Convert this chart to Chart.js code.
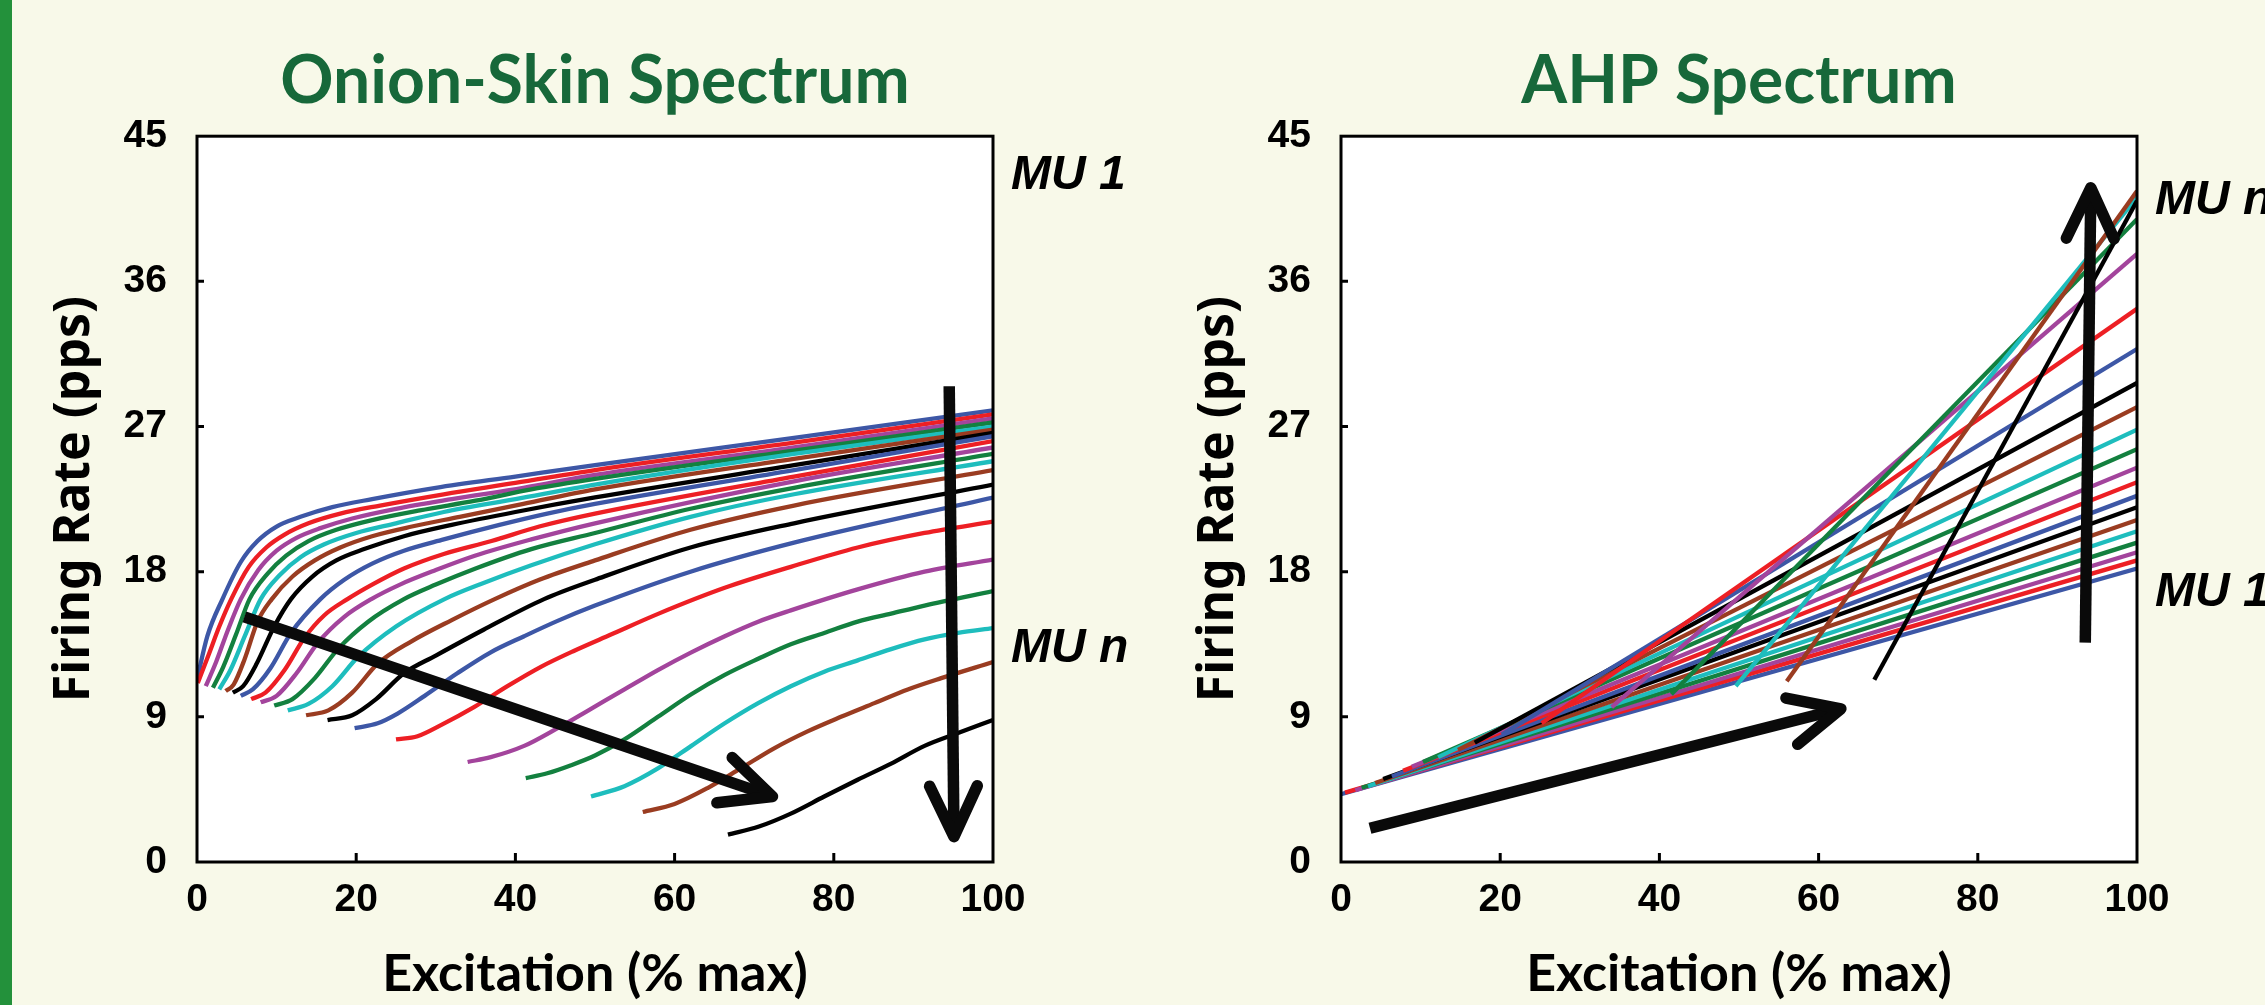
<!DOCTYPE html>
<html>
<head>
<meta charset="utf-8">
<script src="https://cdn.jsdelivr.net/npm/chart.js@4.4.1/dist/chart.umd.min.js"></script>
<style>
  html, body { margin: 0; padding: 0; background: #f8f9e9; }
  #page { position: relative; width: 2265px; height: 1005px; overflow: hidden; }
  #bar { position: absolute; left: 0; top: 0; width: 12px; height: 1005px; background: #23913b; }
  canvas { position: absolute; top: 0; }
  #onion { left: 0; }
  #ahp { left: 1144px; }
</style>
</head>
<body>
<div id="page">
  <canvas id="onion" width="1144" height="1005"></canvas>
  <canvas id="ahp" width="1121" height="1005"></canvas>
  <div id="bar"></div>
</div>
<script>
// colour cycle used for MU 1 .. MU n
var muColors = ['#3d57a6', '#ed1f24', '#a3449c', '#13803f', '#1ebdbd', '#9a3c21', '#000000'];

var xTicks = [0, 20, 40, 60, 80, 100];
var yTicks = [0, 9, 18, 27, 36, 45];

// Onion-skin: [excitation, firing rate] (MU 1 first)
var onionCurves = [
  [[0,11.3],[1.3,14.0],[3.2,16.3],[5.5,18.6],[7.6,19.9],[10,20.8],[13,21.4],[17,22.0],[22,22.5],[30,23.2],[40,23.9],[50,24.6],[75,26.3],[100,28.0]],
  [[0.1,11.1],[1.5,12.9],[2.8,14.6],[4.3,16.3],[6.5,18.3],[8.7,19.5],[11,20.3],[14,21.0],[18,21.6],[23,22.1],[31,22.8],[40,23.5],[50,24.3],[75,26.0],[100,27.75]],
  [[1.1,10.9],[2.4,12.4],[3.9,14.4],[5.5,16.3],[7.7,18.1],[10,19.3],[12.5,20.1],[15.5,20.7],[19.5,21.3],[25,21.9],[32,22.5],[41,23.2],[50,24.0],[75,25.7],[100,27.5]],
  [[2,10.8],[3.3,12.1],[4.9,14.1],[6.6,16.3],[8.9,17.9],[11.2,19.0],[14,19.9],[17.5,20.6],[22,21.2],[28,21.8],[35,22.4],[42,23.1],[50,23.75],[75,25.5],[100,27.25]],
  [[2.8,10.7],[4.2,11.9],[6,14.0],[8,16.3],[10.4,17.8],[13,18.9],[16,19.7],[20,20.4],[25,21.0],[31,21.7],[40,22.5],[50,23.4],[75,25.3],[100,27.0]],
  [[3.6,10.6],[4.6,11.0],[6,12.6],[7.6,14.9],[9.4,16.3],[12,17.7],[14.8,18.7],[18,19.5],[22,20.2],[27,20.8],[33,21.4],[41,22.2],[50,23.1],[75,25.0],[100,26.8]],
  [[4.5,10.5],[5.8,10.9],[7.5,12.3],[9.7,14.6],[11.8,16.3],[14.5,17.7],[17.5,18.7],[21,19.4],[26,20.2],[32,20.9],[40,21.7],[50,22.6],[75,24.6],[100,26.6]],
  [[5.5,10.3],[7,10.7],[9.2,12.0],[11.8,14.2],[15.5,16.3],[18.5,17.5],[22,18.5],[26,19.3],[31,20.0],[38,20.9],[44,21.6],[50,22.2],[75,24.3],[100,26.4]],
  [[6.8,10.1],[8.6,10.5],[11,11.9],[13.5,13.9],[16,15.3],[18.9,16.3],[22,17.2],[26,18.2],[31,19.1],[37,19.9],[43,20.8],[50,21.6],[75,23.9],[100,26.1]],
  [[8,9.9],[10,10.3],[12.5,11.7],[15.2,13.6],[18.5,15.2],[21.9,16.3],[25.5,17.2],[30,18.1],[35,19.0],[42,20.0],[50,21.0],[75,23.6],[100,25.7]],
  [[9.7,9.7],[12,10.1],[14.8,11.4],[17.7,13.2],[21.5,14.9],[26,16.3],[30,17.2],[35,18.2],[42,19.4],[50,20.4],[62,21.9],[75,23.2],[100,25.3]],
  [[11.4,9.4],[14,9.8],[17,10.9],[20.2,12.7],[25,14.6],[31.1,16.3],[36,17.3],[42,18.4],[50,19.7],[62,21.4],[75,22.8],[100,24.85]],
  [[13.7,9.1],[16.5,9.4],[19.5,10.5],[22.7,12.3],[27,13.7],[32,15.0],[37.4,16.3],[43,17.5],[50,18.7],[62,20.6],[75,22.1],[100,24.3]],
  [[16.4,8.8],[19.5,9.1],[22.5,10.1],[26,11.7],[30,12.8],[36,14.4],[43.6,16.3],[50,17.5],[62,19.5],[75,21.0],[100,23.4]],
  [[19.8,8.3],[22.7,8.6],[25.2,9.2],[28.6,10.3],[32.7,11.7],[36.9,13.0],[41.1,14.0],[45.3,14.95],[50,15.9],[62,18.0],[75,19.8],[100,22.6]],
  [[25,7.6],[27.7,7.8],[30.7,8.5],[34.8,9.6],[39,10.9],[43.2,12.1],[47.4,13.1],[52,14.1],[58,15.4],[66.3,17.0],[74.6,18.3],[83,19.5],[91.4,20.4],[100,21.1]],
  [[34,6.2],[36.9,6.5],[41.1,7.2],[45.3,8.3],[49.5,9.5],[53.7,10.7],[57.9,11.9],[62.1,13.0],[66.3,14.0],[70.5,14.9],[74.6,15.6],[83,16.9],[91.4,18.0],[100,18.75]],
  [[41.3,5.2],[44,5.5],[47,6.0],[50,6.6],[53.7,7.6],[57.9,9.0],[62.1,10.4],[66.3,11.6],[70.5,12.6],[74.6,13.5],[78.8,14.2],[83,14.9],[87.2,15.4],[91.4,15.9],[100,16.8]],
  [[49.5,4.06],[53.7,4.7],[57.9,5.8],[62.1,7.2],[66.3,8.6],[70.5,9.85],[74.6,10.9],[78.8,11.8],[83,12.5],[87.2,13.2],[91.4,13.8],[95.6,14.2],[100,14.5]],
  [[56,3.1],[60,3.6],[64.2,4.6],[68.3,5.8],[72.5,7.05],[76.7,8.1],[80.9,9.0],[85.1,9.85],[89.3,10.7],[93.5,11.4],[100,12.4]],
  [[66.7,1.7],[70.6,2.2],[74.6,3.0],[78.8,4.06],[83,5.1],[87.2,6.1],[91.4,7.2],[95.6,8.0],[100,8.8]]
];

// AHP: each MU is a straight line from its recruitment point to 100 %
var ahpThreshold = [0, 0.5, 1.8, 2.6, 3.4, 4.3, 5.3, 6.4, 7.8, 8.9, 10.3, 12.2, 14.7, 16.8, 20.2, 25.2, 34.0, 41.5, 49.6, 56.0, 67.0];
var ahpStartRate = [4.2, 4.3, 4.45, 4.6, 4.7, 4.9, 5.15, 5.3, 5.65, 5.9, 6.2, 6.5, 6.95, 7.4, 7.9, 8.6, 9.6, 10.4, 10.9, 11.2, 11.3];
var ahpEndRate   = [18.2, 18.7, 19.2, 19.8, 20.5, 21.2, 22.0, 22.7, 23.55, 24.45, 25.6, 26.8, 28.2, 29.7, 31.8, 34.3, 37.7, 39.85, 41.2, 41.6, 41.0];

// arrows and MU labels, in data units
var onionArrows = [
  {from: [5.95, 15.2], to: [72.3, 4.06]},
  {from: [94.5, 29.5], to: [95.1, 1.57]}
];
var ahpArrows = [
  {from: [3.64, 2.09], to: [62.8, 9.5]},
  {from: [93.5, 13.6], to: [94.2, 41.8]}
];
var onionLabels = [{text: 'MU 1', y: 42.8}, {text: 'MU n', y: 13.45}];
var ahpLabels = [{text: 'MU n', y: 41.2}, {text: 'MU 1', y: 16.9}];

var decor = {
  id: 'decor',
  beforeDatasetsDraw: function (chart) {
    var a = chart.chartArea, ctx = chart.ctx;
    ctx.save();
    ctx.fillStyle = '#ffffff';
    ctx.fillRect(a.left, a.top, a.right - a.left, a.bottom - a.top);
    ctx.restore();
  },
  afterDatasetsDraw: function (chart, args, opts) {
    var ctx = chart.ctx, a = chart.chartArea, xs = chart.scales.x, ys = chart.scales.y;
    ctx.save();
    // frame and inward ticks
    ctx.strokeStyle = '#000';
    ctx.lineWidth = 3;
    ctx.strokeRect(a.left, a.top, a.right - a.left, a.bottom - a.top);
    ctx.beginPath();
    yTicks.slice(1, -1).forEach(function (v) {
      var p = ys.getPixelForValue(v);
      ctx.moveTo(a.left, p); ctx.lineTo(a.left + 7, p);
    });
    xTicks.slice(1, -1).forEach(function (v) {
      var p = xs.getPixelForValue(v);
      ctx.moveTo(p, a.bottom); ctx.lineTo(p, a.bottom - 9);
    });
    ctx.stroke();

    // arrows
    ctx.strokeStyle = '#0a0a0a';
    ctx.lineWidth = 11.5;
    opts.arrows.forEach(function (ar) {
      var x1 = xs.getPixelForValue(ar.from[0]), y1 = ys.getPixelForValue(ar.from[1]);
      var x2 = xs.getPixelForValue(ar.to[0]), y2 = ys.getPixelForValue(ar.to[1]);
      var ang = Math.atan2(y2 - y1, x2 - x1);
      ctx.lineCap = 'butt';
      ctx.beginPath();
      ctx.moveTo(x1, y1);
      ctx.lineTo(x2 - 5 * Math.cos(ang), y2 - 5 * Math.sin(ang));
      ctx.stroke();
      ctx.lineCap = 'round';
      ctx.lineJoin = 'round';
      ctx.beginPath();
      ctx.moveTo(x2 - 56 * Math.cos(ang - 0.44), y2 - 56 * Math.sin(ang - 0.44));
      ctx.lineTo(x2, y2);
      ctx.lineTo(x2 - 56 * Math.cos(ang + 0.44), y2 - 56 * Math.sin(ang + 0.44));
      ctx.stroke();
    });

    // MU labels right of the plot
    ctx.fillStyle = '#000';
    ctx.font = 'italic bold 48px "Liberation Sans", Arial, sans-serif';
    ctx.textBaseline = 'alphabetic';
    ctx.textAlign = 'left';
    opts.labels.forEach(function (lb) {
      ctx.fillText(lb.text, a.right + 18, ys.getPixelForValue(lb.y) + 17);
    });
    ctx.restore();
  }
};

function makeOptions(title, arrows, labels, rightPad) {
  return {
    responsive: false,
    devicePixelRatio: 1,
    animation: false,
    layout: { padding: { left: 0, right: rightPad, top: 0, bottom: 0 } },
    plugins: {
      legend: { display: false },
      tooltip: { enabled: false },
      title: {
        display: true,
        text: title,
        fullSize: false,
        color: '#17683a',
        font: { family: 'Lato', weight: 'bold', size: 66, lineHeight: 1.2 },
        padding: { top: 42, bottom: 15 }
      },
      decor: { arrows: arrows, labels: labels }
    },
    scales: {
      x: {
        type: 'linear', min: 0, max: 100,
        afterBuildTicks: function (s) { s.ticks = xTicks.map(function (v) { return {value: v}; }); },
        afterFit: function (s) { s.height = 143; },
        grid: { display: false, drawTicks: false },
        border: { display: false },
        ticks: { color: '#000', padding: 15, font: { family: 'Liberation Sans', weight: 'bold', size: 39 } },
        title: {
          display: true, text: 'Excitation (% max)', color: '#000',
          font: { family: 'Lato', weight: 'bold', size: 52, lineHeight: 1.2 },
          padding: { top: 0, bottom: 0 }
        }
      },
      y: {
        type: 'linear', min: 0, max: 45,
        afterBuildTicks: function (s) { s.ticks = yTicks.map(function (v) { return {value: v}; }); },
        afterFit: function (s) { s.width = 197; },
        grid: { display: false, drawTicks: false },
        border: { display: false },
        ticks: { color: '#000', padding: 30, font: { family: 'Liberation Sans', weight: 'bold', size: 39 } },
        title: {
          display: true, text: 'Firing Rate (pps)', color: '#000',
          font: { family: 'Noto Sans', weight: 'bold', size: 50, lineHeight: 1.2 },
          padding: { top: 45, bottom: 0 }
        }
      }
    }
  };
}

var onionSets = onionCurves.map(function (pts, i) {
  return {
    data: pts.map(function (p) { return {x: p[0], y: p[1]}; }),
    showLine: true, pointRadius: 0, borderWidth: 4.3, fill: false,
    borderColor: muColors[i % muColors.length],
    cubicInterpolationMode: 'monotone',
    order: onionCurves.length - i
  };
});

var ahpSets = ahpThreshold.map(function (t, i) {
  return {
    data: [{x: t, y: ahpStartRate[i]}, {x: 100, y: ahpEndRate[i]}],
    showLine: true, pointRadius: 0, borderWidth: 4.3, fill: false,
    borderColor: muColors[i % muColors.length],
    order: ahpThreshold.length - i
  };
});

new Chart(document.getElementById('onion').getContext('2d'), {
  type: 'scatter',
  data: { datasets: onionSets },
  options: makeOptions('Onion-Skin Spectrum', onionArrows, onionLabels, 151),
  plugins: [decor]
});

new Chart(document.getElementById('ahp').getContext('2d'), {
  type: 'scatter',
  data: { datasets: ahpSets },
  options: makeOptions('AHP Spectrum', ahpArrows, ahpLabels, 128),
  plugins: [decor]
});
</script>
</body>
</html>
